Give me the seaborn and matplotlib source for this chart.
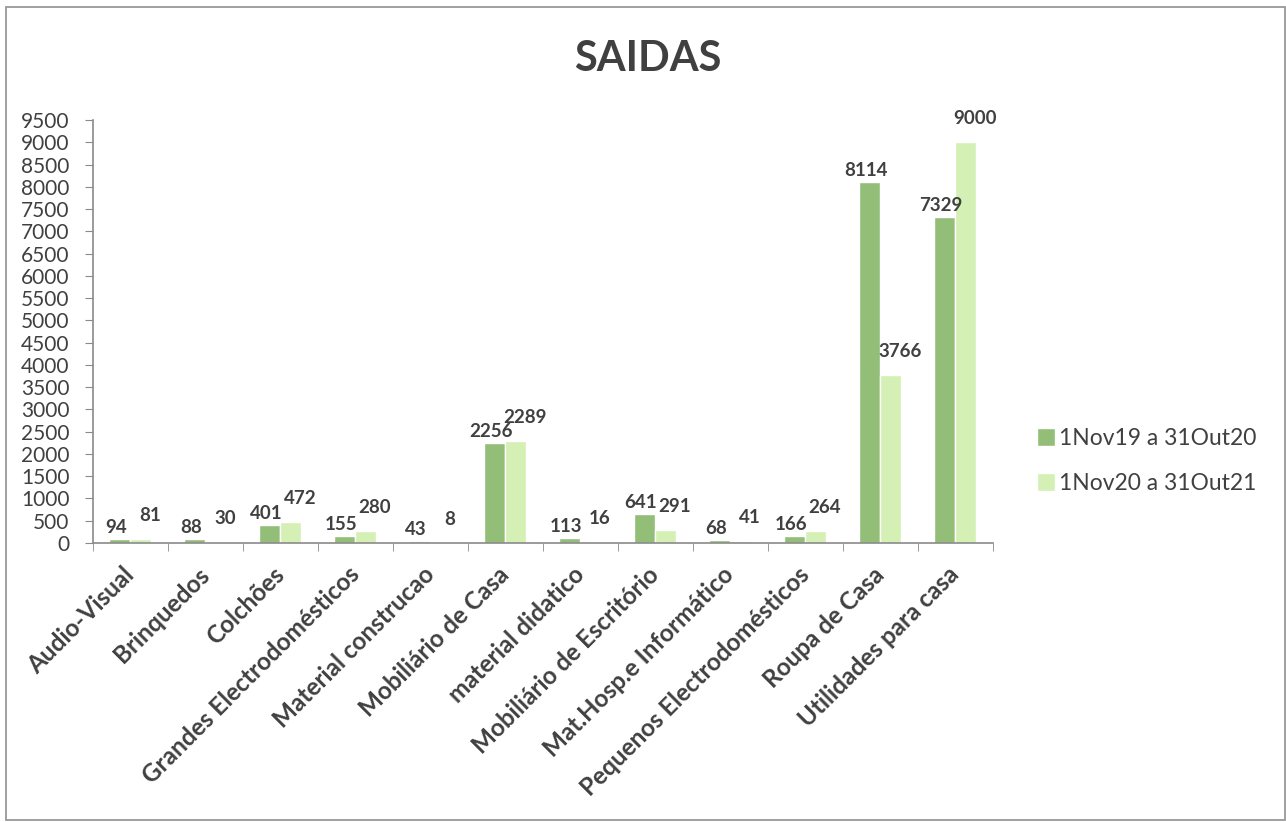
import pandas as pd
import matplotlib.pyplot as plt
import seaborn as sns
from matplotlib.patches import Rectangle

# dados
categorias = ['Audio-Visual', 'Brinquedos', 'Colchões', 'Grandes Electrodomésticos',
              'Material construcao', 'Mobiliário de Casa', 'material didatico',
              'Mobiliário de Escritório', 'Mat.Hosp.e Informático',
              'Pequenos Electrodomésticos', 'Roupa de Casa', 'Utilidades para casa']
periodo_1 = [94, 88, 401, 155, 43, 2256, 113, 641, 68, 166, 8114, 7329]
periodo_2 = [81, 30, 472, 280, 8, 2289, 16, 291, 41, 264, 3766, 9000]
series = ['1Nov19 a 31Out20', '1Nov20 a 31Out21']
yticks = list(range(0, 9501, 500))

df = pd.DataFrame({
    'categoria': categorias * 2,
    'valor': periodo_1 + periodo_2,
    'periodo': [series[0]] * len(categorias) + [series[1]] * len(categorias),
})

sns.set_style('white')
plt.rcParams['font.family'] = ['Lato', 'DejaVu Sans']

cores = ['#92be78', '#d4f0b4']
texto = '#404040'
cinza = '#8a8a8a'

fig = plt.figure(figsize=(12.86, 8.22), dpi=100)
ax = fig.add_axes([0.0723, 0.3394, 0.6998, 0.5146])

sns.barplot(data=df, x='categoria', y='valor', hue='periodo', palette=cores,
            width=0.56, saturation=1, ax=ax, legend=True)

# rótulos de valor (deslocados como no Excel)
desloc = [(-4, 3), (9, 15)]
for cont, (dx, dy) in zip(ax.containers, desloc):
    for barra in cont:
        x = barra.get_x() + barra.get_width() / 2
        y = barra.get_height()
        ax.annotate(f'{int(y)}', (x, y), xytext=(dx, dy), textcoords='offset pixels',
                    ha='center', va='bottom', fontsize=13.5, fontweight='bold',
                    color=texto)

ax.set_ylim(0, 9500)
ax.set_yticks(yticks)
ax.set_yticklabels([str(v) for v in yticks], fontsize=15, color=texto)
ax.set_xlim(-0.5, len(categorias) - 0.5)
ax.set_xticks(range(len(categorias)))
ax.set_xticklabels(categorias, rotation=45, ha='right', va='center',
                   rotation_mode='anchor', fontsize=17.5, fontweight='bold',
                   color=texto)
ax.set_xticks([i - 0.5 for i in range(len(categorias) + 1)], minor=True)
ax.tick_params(axis='x', which='major', length=0, pad=20)
ax.tick_params(axis='x', which='minor', length=6, color=cinza, direction='out',
               bottom=True)
ax.tick_params(axis='y', length=6, color=cinza, direction='out', left=True, pad=11)
ax.set_xlabel('')
ax.set_ylabel('')

for s in ['top', 'right']:
    ax.spines[s].set_visible(False)
for s in ['left', 'bottom']:
    ax.spines[s].set_color(cinza)
    ax.spines[s].set_linewidth(1.2)

ax.legend(loc='center left', bbox_to_anchor=(1037 / 1286, 1 - 461 / 822),
          bbox_transform=fig.transFigure, frameon=False, borderaxespad=0,
          borderpad=0, fontsize=16.5, handlelength=0.78, handleheight=0.78,
          handletextpad=0.2, labelspacing=1.05, labelcolor=texto)

fig.text(0.504, 0.928, 'SAIDAS', ha='center', va='center', fontsize=30,
         fontweight='bold', color=texto)

fig.patches.append(Rectangle((0.0047, 0.0024), 0.9946, 0.989,
                             transform=fig.transFigure, fill=False,
                             edgecolor='#999999', linewidth=1.3))

fig.savefig('out.png', dpi=100)
